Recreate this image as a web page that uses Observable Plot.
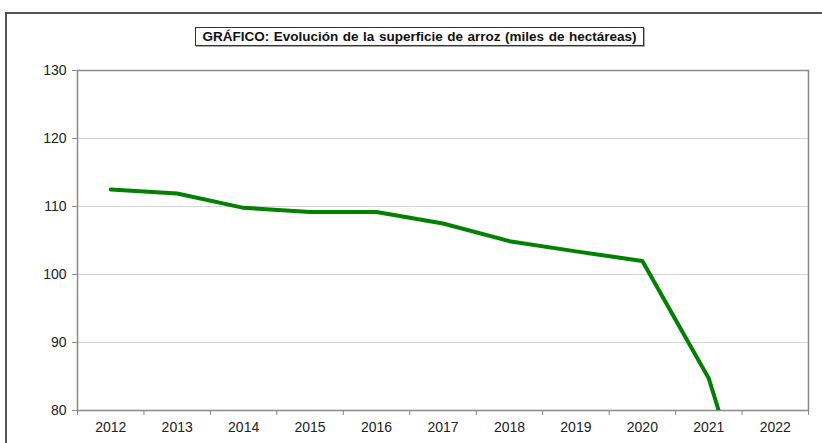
<!DOCTYPE html>
<html>
<head>
<meta charset="utf-8">
<script src="https://cdn.jsdelivr.net/npm/d3@7"></script>
<script src="https://cdn.jsdelivr.net/npm/@observablehq/plot@0.6"></script>
<style>
  html, body { margin: 0; padding: 0; background: #fff; overflow: hidden; }
  #wrap { position: relative; width: 822px; height: 443px; }
  #outer { position: absolute; left: 5px; top: 12px; width: 900px; height: 600px;
           border-left: 2px solid #555; border-top: 2px solid #555; box-sizing: border-box; }
  #title { position: absolute; left: 195px; top: 27px; width: 449px; height: 19px;
           border: 1px solid #333; box-shadow: 1px 1px 0 #aaa; box-sizing: border-box;
           font-family: "Liberation Sans", Arial, sans-serif; font-weight: bold; font-size: 13.5px;
           line-height: 17px; text-align: center; color: #111; white-space: nowrap; word-spacing: 0.8px; }
  #chart { position: absolute; left: 0; top: 0; }
</style>
</head>
<body>
<div id="wrap">
  <div id="outer"></div>
  <div id="chart"></div>
  <div id="title">GRÁFICO: Evolución de la superficie de arroz (miles de hectáreas)</div>
</div>
<script>
const years = [2012, 2013, 2014, 2015, 2016, 2017, 2018, 2019, 2020, 2021, 2022];
const superficie = [112.5, 111.9, 109.8, 109.2, 109.2, 107.5, 104.9, 103.4, 102.0, 84.7, 53.0];
const yTicks = [80, 90, 100, 110, 120, 130];
const yGrid = [90, 100, 110, 120];

const boundaries = years.map(y => y - 0.5).concat([years[years.length - 1] + 0.5]);

const chart = Plot.plot({
  width: 822,
  height: 443,
  marginTop: 70,
  marginBottom: 33,
  marginLeft: 77,
  marginRight: 14,
  x: { type: "linear", domain: [years[0] - 0.5, years[years.length - 1] + 0.5] },
  y: { domain: [80, 130] },
  style: { fontFamily: "'Liberation Sans', Arial, sans-serif", fontSize: "14px", background: "transparent", color: "#222" },
  marks: [
    Plot.gridY(yGrid, { stroke: "#d4d4d4", strokeOpacity: 1, strokeWidth: 1 }),
    Plot.frame({ stroke: "#8a8a8a", strokeWidth: 1.5 }),
    Plot.axisY(yTicks, { tickSize: 5, tickPadding: 6, stroke: "#8a8a8a", fill: "#222", label: null, fontSize: 14 }),
    Plot.axisX(boundaries, { tickSize: 5, tickFormat: () => "", stroke: "#8a8a8a", label: null }),
    Plot.axisX(years, { tickSize: 0, tickPadding: 12, tickFormat: d => String(d), fill: "#222", label: null, fontSize: 14 }),
    Plot.line(superficie, {
      x: (d, i) => years[i],
      y: d => d,
      stroke: "#008200",
      strokeWidth: 4,
      strokeLinejoin: "round",
      strokeLinecap: "round",
      clip: true
    })
  ]
});
document.getElementById("chart").appendChild(chart);
</script>
</body>
</html>
